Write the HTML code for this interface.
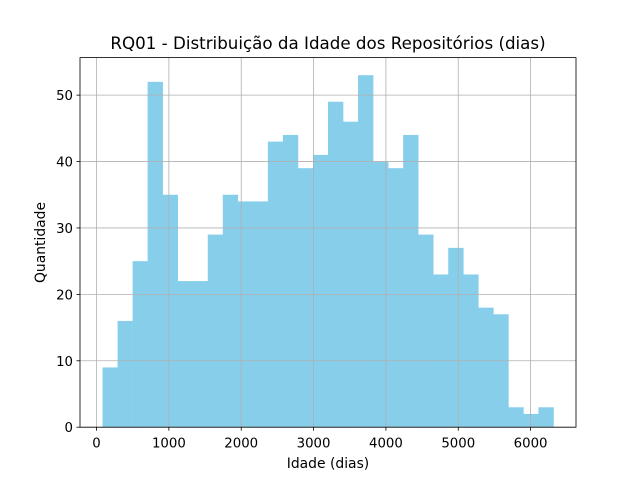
<!DOCTYPE html>
<html><head><meta charset="utf-8"><style>
body{margin:0;background:#fff;}
svg{display:block;font-family:"DejaVu Sans","Liberation Sans",sans-serif;}
</style></head><body>
<svg id="chart" width="640" height="480">
<rect width="640" height="480" fill="#fff"/>
<g id="bars"></g>
<g id="grid"></g>
<g id="axes"></g>
<text x="328" y="49" text-anchor="middle" font-size="16.7">RQ01 - Distribuição da Idade dos Repositórios (dias)</text>
<text x="328" y="468" text-anchor="middle" font-size="13.9">Idade (dias)</text>
<text transform="translate(45,242.5) rotate(-90)" text-anchor="middle" font-size="13.9">Quantidade</text>
</svg>
<script>
const counts = [9,16,25,52,35,22,22,29,35,34,34,43,44,39,41,49,46,53,40,39,44,29,23,27,23,18,17,3,2,3];
const dataMin = 83;
const dataMax = 6316;
const xTicks = [0,1000,2000,3000,4000,5000,6000];
const yTicks = [0,10,20,30,40,50];

const L=80,R=576,T=57.6,B=427.2;
const range=dataMax-dataMin;
const xmin=dataMin-0.05*range, xmax=dataMax+0.05*range;
const ymax=Math.max(...counts)*1.05;
const xs=v=>L+(v-xmin)/(xmax-xmin)*(R-L);
const ys=v=>B-v/ymax*(B-T);
const NS="http://www.w3.org/2000/svg";
function mk(tag,attrs,parent){const e=document.createElementNS(NS,tag);for(const k in attrs)e.setAttribute(k,attrs[k]);parent.appendChild(e);return e;}
const bars=document.getElementById('bars'),grid=document.getElementById('grid'),axes=document.getElementById('axes');
const w=range/counts.length;
counts.forEach((c,i)=>{
  const x0=xs(dataMin+i*w),x1=xs(dataMin+(i+1)*w);
  const r=mk('rect',{x:x0,y:ys(c),width:x1-x0+0.3,height:B-ys(c),fill:'#87ceeb'},bars);
  
  
});
xTicks.forEach(t=>{
  const x=xs(t);
  const g=mk('line',{x1:x,x2:x,y1:T,y2:B,stroke:'#b0b0b0','stroke-width':0.8},grid);
  
  
  mk('line',{x1:x,x2:x,y1:B,y2:B+3.5,stroke:'#000','stroke-width':0.8},axes);
  const tx=mk('text',{x:x,y:B+20.5,'text-anchor':'middle','font-size':13.3},axes);
  tx.textContent=t;
  
  
});
yTicks.forEach(t=>{
  const y=ys(t);
  const g=mk('line',{x1:L,x2:R,y1:y,y2:y,stroke:'#b0b0b0','stroke-width':0.8},grid);
  
  
  mk('line',{x1:L-3.5,x2:L,y1:y,y2:y,stroke:'#000','stroke-width':0.8},axes);
  const tx=mk('text',{x:L-7,y:y+5,'text-anchor':'end','font-size':13.3},axes);
  tx.textContent=t;
  
  
});
const fr=mk('rect',{x:L,y:T,width:R-L,height:B-T,fill:'none',stroke:'#000','stroke-width':0.8},axes);


</script>
</body></html>
